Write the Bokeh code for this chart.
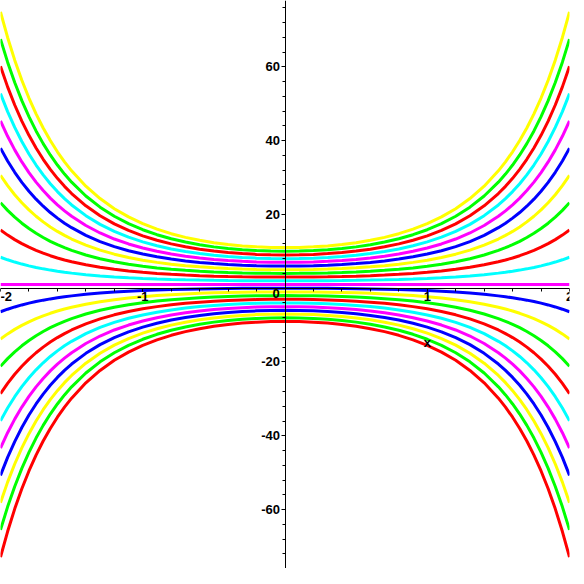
from bokeh.plotting import figure
from bokeh.models import FixedTicker, Label
from bokeh.embed import file_html
from bokeh.resources import INLINE

# Family of curves: each curve = C * shape(x) + offset, C
constants = [-10, -9, -8, -7, -6, -5, -4, -3, -2, -1, 0, 1, 2, 3, 4, 5, 6, 7, 8, 9, 10]
offset = 1
# common shape of the curves for x >= 0 (curves are symmetric about x = 0)
x_half = [0.0, 0.1, 0.2, 0.3, 0.4, 0.5, 0.6, 0.7, 0.8, 0.9, 1.0, 1.1, 1.2, 1.3, 1.4,
          1.5, 1.55, 1.6, 1.65, 1.7, 1.75, 1.8, 1.85, 1.9, 1.95, 2.0]
shape_half = [1.0, 1.00501, 1.02020, 1.04603, 1.08329, 1.13315, 1.19722, 1.27762,
              1.37713, 1.49935, 1.64872, 1.83125, 2.05443, 2.32798, 2.66446, 3.08022,
              3.32427, 3.59664, 3.90106, 4.24185, 4.62394, 5.05309, 5.53588, 6.07996,
              6.69425, 7.38906]
x_ticks = [-2, -1, 1, 2]
x_tick_labels = ["-2", "-1", "1", "2"]
y_ticks = [-60, -40, -20, 20, 40, 60]
y_tick_labels = ["-60", "-40", "-20", "20", "40", "60"]

palette = ["#FF0000", "#00FF00", "#FFFF00", "#0000FF", "#FF00FF", "#00FFFF"]

xs = [-v for v in reversed(x_half[1:])] + x_half
shape = list(reversed(shape_half[1:])) + shape_half

p = figure(width=576, height=568, x_range=(-2, 2), y_range=(-75.96, 77.96),
           output_backend="svg", toolbar_location=None,
           min_border_left=0, min_border_right=7, min_border_top=0, min_border_bottom=0)
p.outline_line_color = None
p.xgrid.visible = False
p.ygrid.visible = False
p.background_fill_color = "white"

for i, c in enumerate(constants):
    ys = [c * s + offset for s in shape]
    p.line(xs, ys, line_color=palette[i % len(palette)], line_width=3)

font = "Liberation Sans"
p.xaxis.fixed_location = 0
p.yaxis.fixed_location = 0
p.xaxis.ticker = FixedTicker(ticks=x_ticks,
                             minor_ticks=[-2 + 0.2 * k for k in range(21)])
p.yaxis.ticker = FixedTicker(ticks=y_ticks,
                             minor_ticks=list(range(-76, 80, 4)))
x_over = dict(zip(x_ticks, x_tick_labels))
x_over[-2] = ""
p.xaxis.major_label_overrides = x_over
p.yaxis.major_label_overrides = dict(zip(y_ticks, y_tick_labels))
for ax in (p.xaxis, p.yaxis):
    ax.axis_line_color = "black"
    ax.axis_line_width = 1
    ax.major_tick_line_color = "black"
    ax.minor_tick_line_color = "black"
    ax.major_tick_in = 0
    ax.minor_tick_in = 0
    ax.major_label_text_font = font
    ax.major_label_text_font_style = "bold"
    ax.major_label_text_font_size = "13px"
    ax.major_label_text_color = "black"
p.xaxis.major_tick_out = 3
p.xaxis.minor_tick_out = 3
p.xaxis.major_label_standoff = 1
p.yaxis.major_tick_out = 4
p.yaxis.minor_tick_out = 3
p.yaxis.major_label_standoff = 1

p.add_layout(Label(x=-2, y=0, text=x_tick_labels[0], text_align="left", text_baseline="top",
                   y_offset=-4, text_font=font, text_font_style="bold",
                   text_font_size="13px", text_color="black"))
p.add_layout(Label(x=0, y=0, text="0", text_align="center", text_baseline="top",
                   x_offset=-9, y_offset=-1, text_font=font, text_font_style="bold",
                   text_font_size="13px", text_color="black"))
p.add_layout(Label(x=1, y=-14.6, text="x", text_align="center", text_baseline="middle",
                   text_font=font, text_font_style="bold",
                   text_font_size="13px", text_color="black"))

open("out.html", "w").write(file_html(p, INLINE))
